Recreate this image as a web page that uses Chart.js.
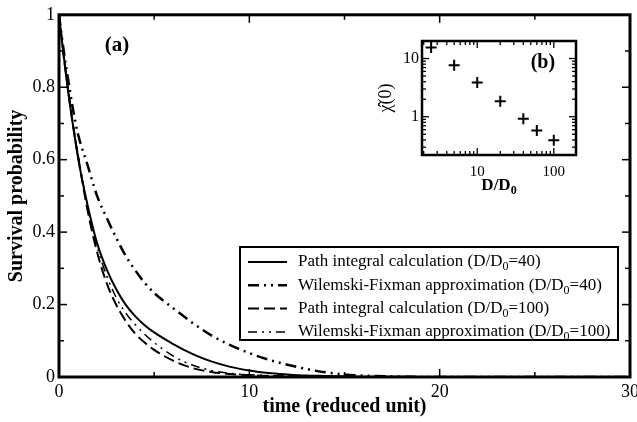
<!DOCTYPE html>
<html>
<head>
<meta charset="utf-8">
<script src="https://cdn.jsdelivr.net/npm/chart.js@4/dist/chart.umd.min.js"></script>
<style>
  html, body { margin: 0; padding: 0; background: #fff; overflow: hidden; width: 637px; height: 422px; }
  #wrap { position: relative; width: 637px; height: 422px; overflow: hidden; }
  #main { position: absolute; left: 0; top: 0; }
  #inset { position: absolute; left: 375px; top: 25px; }
</style>
</head>
<body>
<div id="wrap">
  <canvas id="main" width="660" height="422"></canvas>
  <canvas id="inset" width="215" height="175"></canvas>
</div>
<script>
// ---- panel (a): survival probability versus time ----
const time   = [0, 0.25, 0.5, 0.75, 1, 1.5, 2, 2.5, 3, 3.5, 4, 4.5, 5, 6, 7, 8, 9, 10, 11, 12, 13, 14, 15, 16, 18, 20, 25, 30];
const piD40  = [1, 0.885, 0.78, 0.69, 0.605, 0.475, 0.37, 0.298, 0.243, 0.2, 0.168, 0.143, 0.123, 0.091, 0.064, 0.043, 0.028, 0.018, 0.011, 0.007, 0.004, 0.003, 0.002, 0.001, 0.0005, 0, 0, 0];
const wfD40  = [1, 0.9, 0.815, 0.735, 0.67, 0.585, 0.5, 0.44, 0.385, 0.335, 0.295, 0.26, 0.232, 0.19, 0.15, 0.115, 0.088, 0.066, 0.048, 0.034, 0.022, 0.013, 0.007, 0.004, 0.001, 0, 0, 0];
const piD100 = [1, 0.885, 0.785, 0.69, 0.61, 0.46, 0.345, 0.26, 0.2, 0.155, 0.12, 0.095, 0.075, 0.045, 0.025, 0.014, 0.008, 0.005, 0.003, 0.002, 0.001, 0, 0, 0, 0, 0, 0, 0];
const wfD100 = [1, 0.885, 0.785, 0.695, 0.615, 0.47, 0.36, 0.28, 0.22, 0.177, 0.145, 0.118, 0.095, 0.058, 0.033, 0.018, 0.01, 0.006, 0.004, 0.002, 0.001, 0.0005, 0, 0, 0, 0, 0, 0];

const seriesLabels = [
  'Path integral calculation (D/D0=40)',
  'Wilemski-Fixman approximation (D/D0=40)',
  'Path integral calculation (D/D0=100)',
  'Wilemski-Fixman approximation (D/D0=100)'
];

const timeTicks     = [0, 10, 20, 30];
const timeMinor     = [5, 15, 25];
const survivalTicks = [0, 0.2, 0.4, 0.6, 0.8, 1];
const survivalMinor = [0.1, 0.3, 0.5, 0.7, 0.9];

// ---- panel (b): chi(0) versus D/D0 ----
const ratioD   = [2.5, 5, 10, 20, 40, 60, 100];
const chiZero  = [15.5, 7.66, 3.86, 1.84, 0.92, 0.58, 0.395];
const ratioTicks  = [10, 100];
const ratioMinor  = [2, 3, 4, 5, 6, 7, 8, 9, 20, 30, 40, 50, 60, 70, 80, 90];
const chiTicks    = [1, 10];
const chiMinor    = [0.3, 0.4, 0.5, 0.6, 0.7, 0.8, 0.9, 2, 3, 4, 5, 6, 7, 8, 9, 20];

const SERIF = "'Liberation Serif', 'Times New Roman', Times, serif";
Chart.defaults.font.family = SERIF;
Chart.defaults.color = '#000';

const pairs = ys => time.map((t, i) => ({ x: t, y: ys[i] }));

// frame with inward tick marks on all four sides
function frameTicks(id) {
  return {
    id: id,
    afterDatasetsDraw(chart, args, o) {
      const { ctx, chartArea: a, scales: { x, y } } = chart;
      ctx.save();
      ctx.strokeStyle = '#000';
      ctx.setLineDash([]);
      ctx.lineWidth = o.tickWidth;
      const seg = (x1, y1, x2, y2) => { ctx.beginPath(); ctx.moveTo(x1, y1); ctx.lineTo(x2, y2); ctx.stroke(); };
      const xt = (vals, len) => vals.forEach(v => {
        const p = x.getPixelForValue(v);
        if (p < a.left - 0.5 || p > a.right + 0.5) return;
        seg(p, a.bottom, p, a.bottom - len);
        seg(p, a.top, p, a.top + len);
      });
      const yt = (vals, len) => vals.forEach(v => {
        const p = y.getPixelForValue(v);
        if (p < a.top - 0.5 || p > a.bottom + 0.5) return;
        seg(a.left, p, a.left + len, p);
        seg(a.right, p, a.right - len, p);
      });
      xt(o.xMajor, o.majorLen); xt(o.xMinor, o.minorLen);
      yt(o.yMajor, o.majorLen); yt(o.yMinor, o.minorLen);
      ctx.lineWidth = o.frameWidth;
      ctx.strokeRect(a.left, a.top, a.right - a.left, a.bottom - a.top);
      ctx.restore();
    }
  };
}

// text with the "D0" written as D with a subscript 0
function drawSubText(ctx, text, x, y, size, weight, align) {
  const k = text.lastIndexOf('D0');
  const pre = text.slice(0, k + 1), sub = '0', post = text.slice(k + 2);
  const big = (weight || 'normal') + ' ' + size + 'px ' + SERIF;
  const small = (weight || 'normal') + ' ' + Math.round(size * 0.7) + 'px ' + SERIF;
  ctx.textBaseline = 'middle';
  ctx.textAlign = 'left';
  ctx.font = big; const w1 = ctx.measureText(pre).width, w3 = ctx.measureText(post).width;
  ctx.font = small; const w2 = ctx.measureText(sub).width;
  let x0 = x;
  if (align === 'center') x0 = x - (w1 + w2 + w3) / 2;
  ctx.font = big; ctx.fillText(pre, x0, y);
  ctx.font = small; ctx.fillText(sub, x0 + w1, y + size * 0.3);
  ctx.font = big; ctx.fillText(post, x0 + w1 + w2, y);
}

const legendBox = {
  id: 'legendBox',
  afterDatasetsDraw(chart) {
    const { ctx } = chart;
    const L = 240, T = 247, R = 618, B = 340;
    ctx.save();
    ctx.fillStyle = '#fff';
    ctx.fillRect(L, T, R - L, B - T);
    ctx.strokeStyle = '#000';
    ctx.lineWidth = 2;
    ctx.strokeRect(L, T, R - L, B - T);
    ctx.fillStyle = '#000';
    chart.data.datasets.forEach((ds, i) => {
      const yy = T + 15 + i * 23.3;
      ctx.setLineDash(ds.borderDash || []);
      ctx.lineWidth = ds.borderWidth;
      ctx.beginPath(); ctx.moveTo(L + 8, yy); ctx.lineTo(L + 47, yy); ctx.stroke();
      ctx.setLineDash([]);
      drawSubText(ctx, ds.label, L + 58, yy, 17);
    });
    ctx.restore();
  }
};

const panelTag = {
  id: 'panelTag',
  afterDraw(chart, args, o) {
    const { ctx, scales: { x, y } } = chart;
    ctx.save();
    ctx.fillStyle = '#000';
    ctx.font = 'bold ' + o.size + 'px ' + SERIF;
    ctx.textAlign = 'center';
    ctx.textBaseline = 'middle';
    ctx.fillText(o.text, x.getPixelForValue(o.x), y.getPixelForValue(o.y));
    ctx.restore();
  }
};

new Chart(document.getElementById('main'), {
  type: 'line',
  data: {
    datasets: [
      { label: seriesLabels[0], data: pairs(piD40),  borderColor: '#000', borderWidth: 2,   borderDash: [] },
      { label: seriesLabels[1], data: pairs(wfD40),  borderColor: '#000', borderWidth: 2.5, borderDash: [11, 5, 2, 5, 2, 5] },
      { label: seriesLabels[2], data: pairs(piD100), borderColor: '#000', borderWidth: 2,   borderDash: [11, 5] },
      { label: seriesLabels[3], data: pairs(wfD100), borderColor: '#000', borderWidth: 1.5, borderDash: [9, 5, 2, 5, 2, 5] }
    ]
  },
  options: {
    responsive: false,
    animation: false,
    devicePixelRatio: 1,
    layout: { padding: { left: 0, top: 14, right: 30, bottom: 0 } },
    elements: { point: { radius: 0 }, line: { cubicInterpolationMode: 'monotone', fill: false } },
    plugins: {
      legend: { display: false },
      tooltip: { enabled: false },
      frameA: { xMajor: timeTicks, xMinor: timeMinor, yMajor: survivalTicks, yMinor: survivalMinor,
                majorLen: 8, minorLen: 5, tickWidth: 1.5, frameWidth: 3 },
      panelTag: { text: '(a)', x: 3.05, y: 0.915, size: 21 }
    },
    scales: {
      x: {
        type: 'linear', min: 0, max: 30,
        afterBuildTicks: s => { s.ticks = timeTicks.map(v => ({ value: v })); },
        afterFit: s => { s.height = 45; },
        grid: { display: false, drawTicks: false },
        border: { display: false },
        ticks: { padding: 4, font: { size: 18 }, color: '#000', maxRotation: 0, callback: v => String(v) },
        title: { display: true, text: 'time (reduced unit)', color: '#000',
                 font: { size: 20, weight: 'bold' }, padding: { top: 0, bottom: 3 } }
      },
      y: {
        type: 'linear', min: 0, max: 1,
        afterBuildTicks: s => { s.ticks = survivalTicks.map(v => ({ value: v })); },
        afterFit: s => { s.width = 59; },
        grid: { display: false, drawTicks: false },
        border: { display: false },
        ticks: { padding: 4, font: { size: 18 }, color: '#000', callback: v => String(v) },
        title: { display: true, text: 'Survival probability', color: '#000',
                 font: { size: 20, weight: 'bold' }, padding: { top: 5, bottom: 0 } }
      }
    }
  },
  plugins: [frameTicks('frameA'), legendBox, panelTag]
});

const insetXTitle = {
  id: 'insetXTitle',
  afterDraw(chart) {
    const { ctx, chartArea: a } = chart;
    ctx.save();
    ctx.fillStyle = '#000';
    drawSubText(ctx, 'D/D0', (a.left + a.right) / 2, a.bottom + 31, 17, 'bold', 'center');
    ctx.restore();
  }
};

new Chart(document.getElementById('inset'), {
  type: 'scatter',
  data: {
    datasets: [{
      data: ratioD.map((d, i) => ({ x: d, y: chiZero[i] })),
      pointStyle: 'cross', pointRadius: 5.5, pointBorderWidth: 2,
      borderColor: '#000', backgroundColor: '#000', showLine: false
    }]
  },
  options: {
    responsive: false,
    animation: false,
    devicePixelRatio: 1,
    layout: { padding: { left: 0, top: 16, right: 14, bottom: 0 } },
    plugins: {
      legend: { display: false },
      tooltip: { enabled: false },
      frameB: { xMajor: ratioTicks, xMinor: ratioMinor, yMajor: chiTicks, yMinor: chiMinor,
                majorLen: 7, minorLen: 4, tickWidth: 1.3, frameWidth: 2.5 },
      panelTag: { text: '(b)', x: 72, y: 8.4, size: 20 }
    },
    scales: {
      x: {
        type: 'logarithmic', min: 1.9, max: 195,
        afterBuildTicks: s => { s.ticks = ratioTicks.map(v => ({ value: v })); },
        afterFit: s => { s.height = 45; },
        grid: { display: false, drawTicks: false },
        border: { display: false },
        ticks: { padding: 8, font: { size: 15 }, color: '#000', maxRotation: 0, callback: v => String(v) }
      },
      y: {
        type: 'logarithmic', min: 0.22, max: 20,
        afterBuildTicks: s => { s.ticks = chiTicks.map(v => ({ value: v })); },
        afterFit: s => { s.width = 47; },
        grid: { display: false, drawTicks: false },
        border: { display: false },
        ticks: { padding: 3, font: { size: 16 }, color: '#000', callback: v => String(v) },
        title: { display: true, text: 'χ\u0302(0)', color: '#000',
                 font: { size: 18 }, padding: { top: 0, bottom: 0 } }
      }
    }
  },
  plugins: [frameTicks('frameB'), panelTag, insetXTitle]
});
</script>
</body>
</html>
